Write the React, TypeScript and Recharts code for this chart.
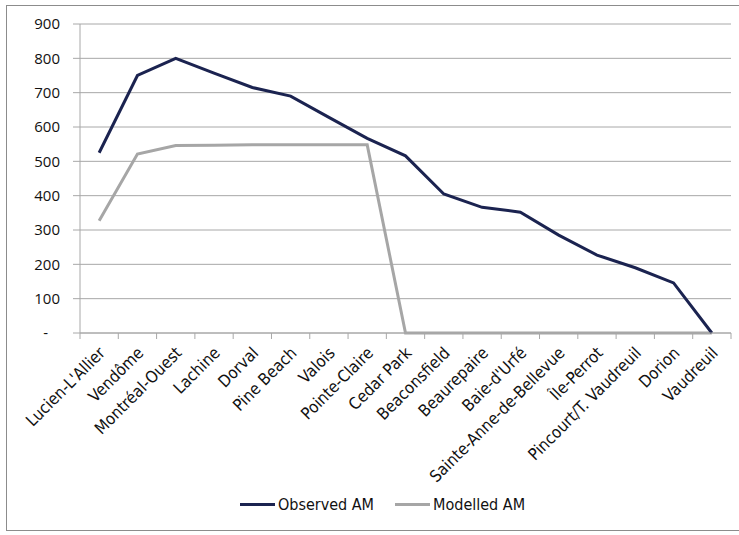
import React from "react";
import {
  LineChart,
  Line,
  XAxis,
  YAxis,
  CartesianGrid,
  Legend,
} from "recharts";

const stations = [
  "Lucien-L'Allier",
  "Vendôme",
  "Montréal-Ouest",
  "Lachine",
  "Dorval",
  "Pine Beach",
  "Valois",
  "Pointe-Claire",
  "Cedar Park",
  "Beaconsfield",
  "Beaurepaire",
  "Baie-d'Urfé",
  "Sainte-Anne-de-Bellevue",
  "Île-Perrot",
  "Pincourt/T. Vaudreuil",
  "Dorion",
  "Vaudreuil",
];

const observedAM = [525, 750, 800, 757, 715, 690, 628, 567, 516, 405, 366, 352, 285, 227, 190, 146, 0];
const modelledAM = [327, 521, 546, 547, 548, 548, 548, 548, 0, 0, 0, 0, 0, 0, 0, 0, 0];

const yTicks = [0, 100, 200, 300, 400, 500, 600, 700, 800, 900];

const rows = stations.map((name, i) => ({
  name,
  observed: observedAM[i],
  modelled: modelledAM[i],
}));

const OBS_COLOR = "#1b2350";
const MOD_COLOR = "#a6a6a6";
const AXIS_COLOR = "#a8a8a8";
const LABEL_FONT = "'DejaVu Sans', sans-serif";

// half of one category slot, so tick marks sit between stations
const HALF_BAND = 651 / 17 / 2;

const StationTick = (props: any) => {
  const { x, y, payload, index } = props;
  return (
    <g>
      <line x1={x - HALF_BAND} y1={y} x2={x - HALF_BAND} y2={y + 6} stroke={AXIS_COLOR} />
      {index === stations.length - 1 && (
        <line x1={x + HALF_BAND} y1={y} x2={x + HALF_BAND} y2={y + 6} stroke={AXIS_COLOR} />
      )}
      <text
        transform={`translate(${x + 7},${y + 21}) rotate(-45)`}
        textAnchor="end"
        fontSize={16.5}
        fontFamily={LABEL_FONT}
        style={{ fontStretch: "condensed" }}
        fill="#111"
      >
        {payload.value}
      </text>
    </g>
  );
};

const ValueTick = (props: any) => {
  const { x, y, payload } = props;
  const zero = payload.value === 0;
  return (
    <text
      x={zero ? x - 12 : x}
      y={y}
      dy="0.36em"
      textAnchor="end"
      fontSize={15}
      fontFamily="'Open Sans', sans-serif"
      fill="#111"
    >
      {zero ? "-" : payload.value}
    </text>
  );
};

const LegendContent = () => {
  const items = [
    { label: "Observed AM", color: OBS_COLOR },
    { label: "Modelled AM", color: MOD_COLOR },
  ];
  return (
    <div
      style={{
        display: "flex",
        justifyContent: "center",
        alignItems: "center",
        paddingLeft: 34,
        fontFamily: LABEL_FONT,
        fontStretch: "condensed",
        fontSize: 16,
        color: "#111",
      }}
    >
      {items.map((it, i) => (
        <div
          key={it.label}
          style={{ display: "flex", alignItems: "center", marginLeft: i === 0 ? 0 : 21 }}
        >
          <div style={{ width: 35, height: 3, background: it.color, marginRight: 3 }} />
          <span>{it.label}</span>
        </div>
      ))}
    </div>
  );
};

export default function App() {
  return (
    <div
      style={{
        position: "absolute",
        left: 0,
        top: 0,
        width: 739,
        height: 535,
        background: "#fff",
      }}
    >
      <div
        style={{
          position: "absolute",
          left: 6,
          top: 5,
          width: 740,
          height: 526,
          border: "1px solid #8c8c8c",
          boxSizing: "border-box",
        }}
      />
      <div style={{ position: "absolute", left: 0, top: 0 }}>
        <LineChart
          width={739}
          height={535}
          data={rows}
          margin={{ top: 24, right: 8, left: 0, bottom: 0 }}
        >
          <CartesianGrid vertical={false} stroke={AXIS_COLOR} strokeWidth={1} />
          <XAxis
            dataKey="name"
            interval={0}
            padding={{ left: HALF_BAND, right: HALF_BAND }}
            height={162}
            tickSize={0}
            tickMargin={0}
            tickLine={false}
            axisLine={{ stroke: AXIS_COLOR }}
            tick={<StationTick />}
          />
          <YAxis
            domain={[0, 900]}
            ticks={yTicks}
            width={80}
            tickSize={7}
            tickMargin={13}
            tickLine={{ stroke: AXIS_COLOR }}
            axisLine={{ stroke: AXIS_COLOR }}
            tick={<ValueTick />}
          />
          <Legend verticalAlign="bottom" height={40} content={<LegendContent />} />
          <Line
            type="linear"
            dataKey="modelled"
            name="Modelled AM"
            stroke={MOD_COLOR}
            strokeWidth={3}
            dot={false}
            isAnimationActive={false}
          />
          <Line
            type="linear"
            dataKey="observed"
            name="Observed AM"
            stroke={OBS_COLOR}
            strokeWidth={3}
            dot={false}
            isAnimationActive={false}
          />
        </LineChart>
      </div>
    </div>
  );
}
